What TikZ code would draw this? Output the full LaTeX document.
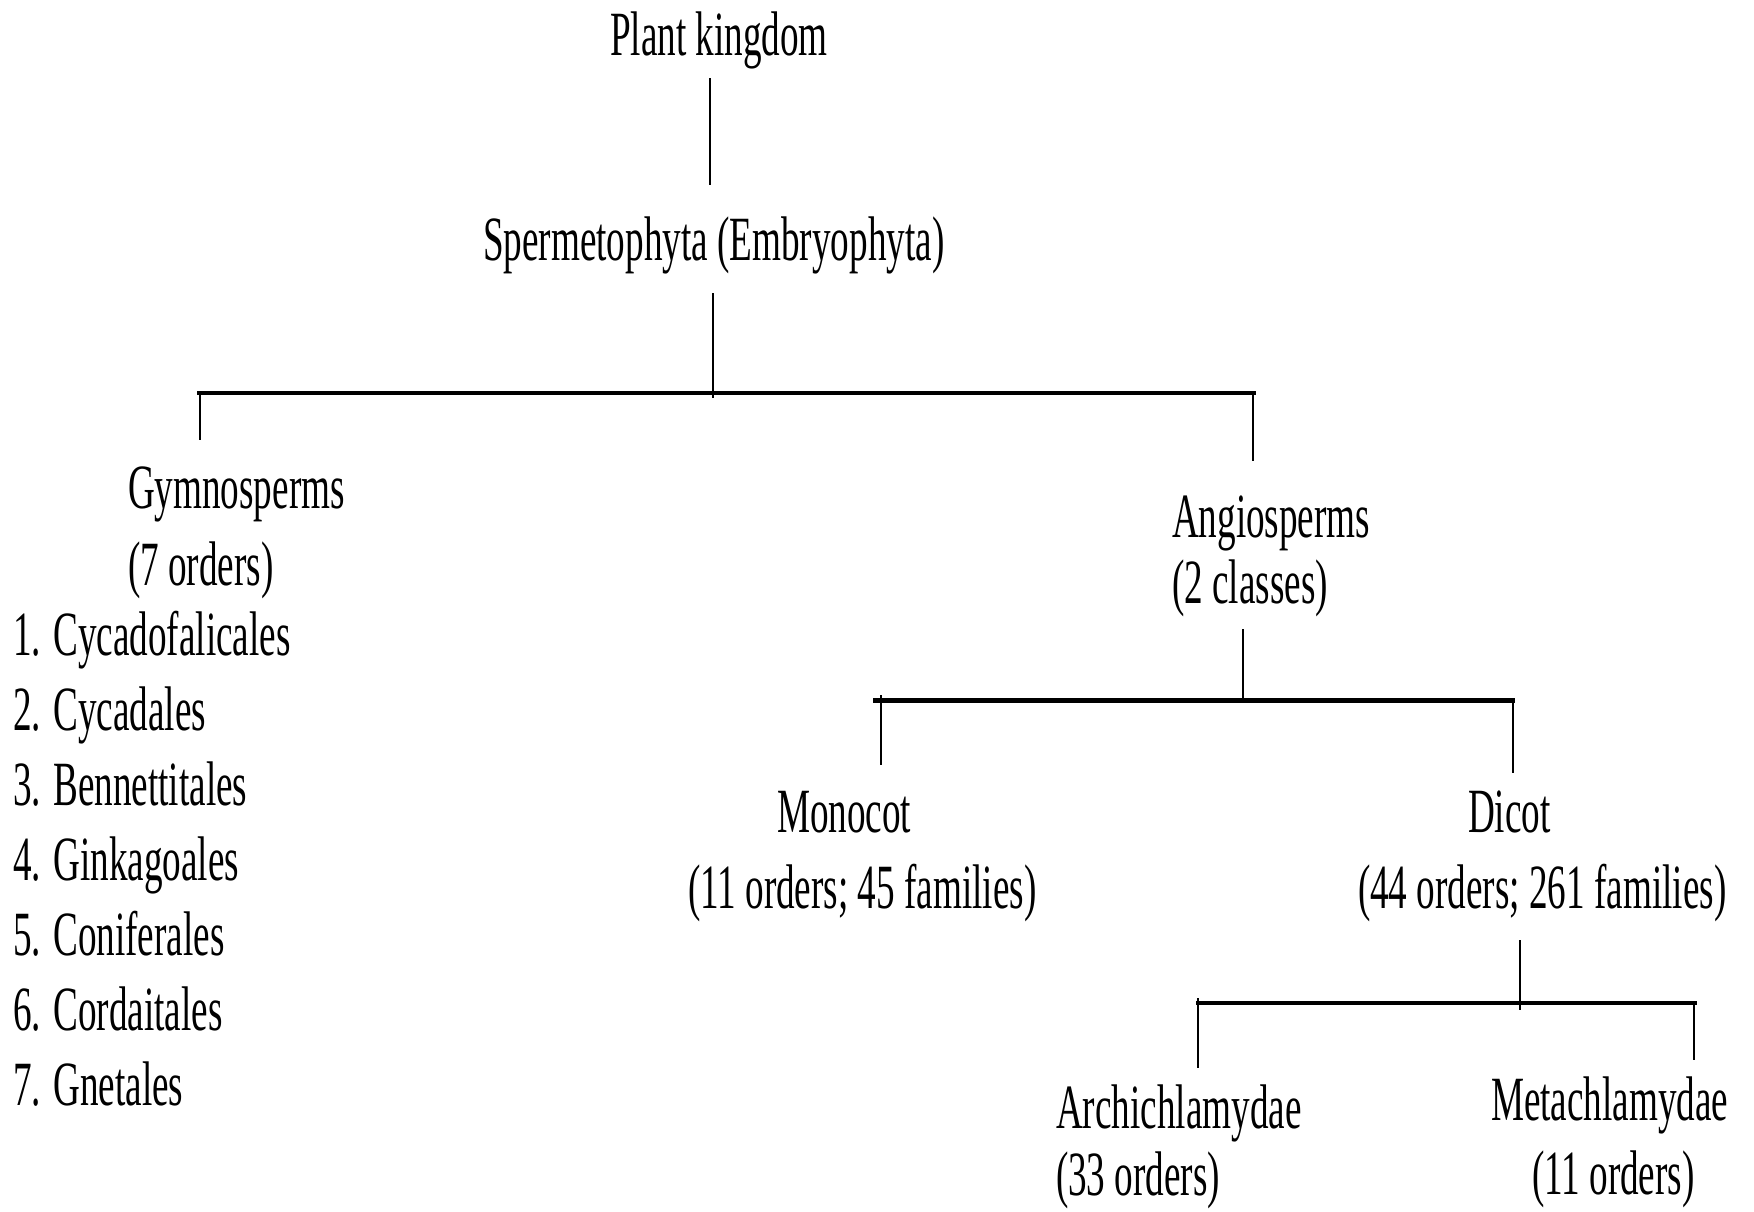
\documentclass[tikz,border=0pt]{standalone}
\usepackage{fontspec}
\setmainfont[FakeStretch=0.59]{Liberation Serif}
\begin{document}
\begin{tikzpicture}[x=1pt,y=-1pt,
  lbl/.style={anchor=base west,inner sep=0pt,outer sep=0pt,font=\fontsize{63}{70}\selectfont},
  thin/.style={line width=2pt},
  drop/.style={line width=2.6pt},
  bar/.style={line width=4.2pt}]
\useasboundingbox[fill=white] (0,0) rectangle (1754,1211);
% text
\node[lbl] (pk) at (610,55) {Plant kingdom};
\node[lbl] (sp) at (483,260) {Spermetophyta (Embryophyta)};
\node[lbl] (gy) at (128,508) {Gymnosperms};
\node[lbl] (gyo) at (128,585) {(7 orders)};
\node[lbl] (g1) at (13,655) {1. Cycadofalicales};
\node[lbl] (g2) at (13,730) {2. Cycadales};
\node[lbl] (g3) at (13,805) {3. Bennettitales};
\node[lbl] (g4) at (13,880) {4. Ginkagoales};
\node[lbl] (g5) at (13,955) {5. Coniferales};
\node[lbl] (g6) at (13,1030) {6. Cordaitales};
\node[lbl] (g7) at (13,1105) {7. Gnetales};
\node[lbl] (an) at (1172,537) {Angiosperms};
\node[lbl] (anc) at (1172,603) {(2 classes)};
\node[lbl] (mo) at (777,832) {Monocot};
\node[lbl] (mof) at (688,908) {(11 orders; 45 families)};
\node[lbl] (di) at (1468,832) {Dicot};
\node[lbl] (dif) at (1358,908) {(44 orders; 261 families)};
\node[lbl] (ar) at (1056,1128) {Archichlamydae};
\node[lbl] (aro) at (1056,1195) {(33 orders)};
\node[lbl] (me) at (1491,1120) {Metachlamydae};
\node[lbl] (meo) at (1532,1194) {(11 orders)};
% connector points
\coordinate (pkB) at (710,78);
\coordinate (spT) at (710,185);
\coordinate (spB) at (713,293);
\coordinate (b1m) at (713,398);
\coordinate (b1l) at (197,393);
\coordinate (b1r) at (1256,393);
\coordinate (gyT) at (200,440);
\coordinate (anT) at (1253,461);
\coordinate (gl) at (200,393);
\coordinate (gr) at (1253,393);
\coordinate (ancB) at (1243,629);
\coordinate (b2m) at (1243,700);
\coordinate (b2l) at (873,700.5);
\coordinate (b2r) at (1515,700.5);
\coordinate (moU) at (881,695);
\coordinate (moT) at (881,765);
\coordinate (diU) at (1513,700.5);
\coordinate (diT) at (1513,773);
\coordinate (difB) at (1520,940);
\coordinate (b3m) at (1520,1010);
\coordinate (b3l) at (1196,1003);
\coordinate (b3r) at (1697,1003);
\coordinate (arU) at (1198,998);
\coordinate (arT) at (1198,1068);
\coordinate (meU) at (1694,1003);
\coordinate (meT) at (1694,1060);
% connectors
\draw[thin] (pkB) -- (spT);
\draw[drop] (spB) -- (b1m);
\draw[bar] (b1l) -- (b1r);
\draw[thin] (gl) -- (gyT);
\draw[thin] (gr) -- (anT);
\draw[thin] (ancB) -- (b2m);
\draw[bar] (b2l) -- (b2r);
\draw[drop] (moU) -- (moT);
\draw[thin] (diU) -- (diT);
\draw[thin] (difB) -- (b3m);
\draw[bar] (b3l) -- (b3r);
\draw[drop] (arU) -- (arT);
\draw[drop] (meU) -- (meT);
\end{tikzpicture}
\end{document}
